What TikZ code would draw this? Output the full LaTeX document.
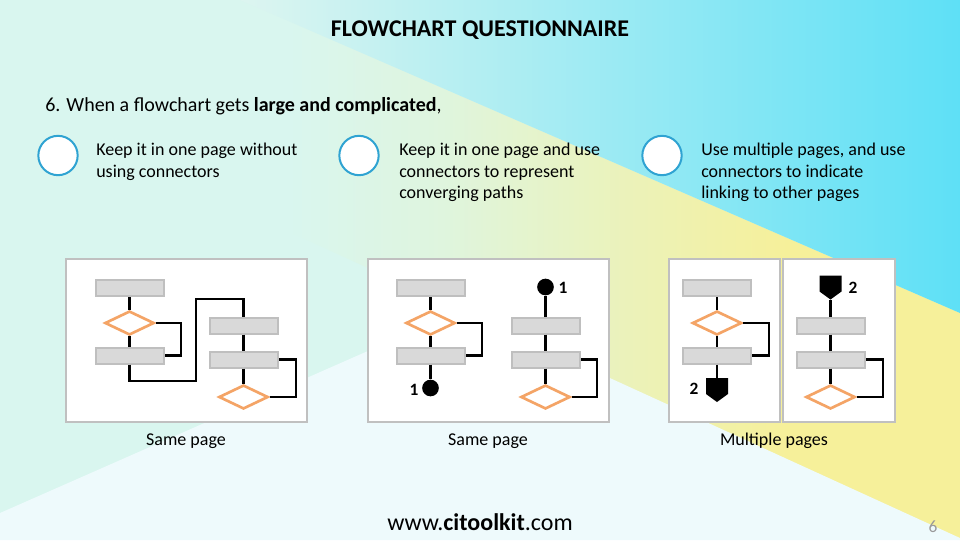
\documentclass[tikz,border=0pt]{standalone}
\usepackage{fontspec}
\setmainfont{Carlito}
\usetikzlibrary{shapes.geometric}
\definecolor{mint}{HTML}{D9F6EF}
\definecolor{paleb}{HTML}{EEFAFC}
\definecolor{yel}{HTML}{F6F09A}
\definecolor{cyanA}{HTML}{DDF5F0}
\definecolor{cyanB}{HTML}{5EE0F6}
\definecolor{ringblue}{HTML}{2FA3D2}
\definecolor{boxfill}{HTML}{D9D9D9}
\definecolor{boxline}{HTML}{BFBFBF}
\definecolor{dia}{HTML}{F4A466}
\definecolor{panelline}{HTML}{C0C0C0}
\pgfdeclarehorizontalshading{ybandshade}{100bp}{color(0bp)=(mint); color(40bp)=(mint); color(48bp)=(mint!80!yel); color(56bp)=(mint!45!yel); color(66bp)=(yel); color(100bp)=(yel)}
\begin{document}
\begin{tikzpicture}[x=0.75pt,y=-0.75pt,
  box/.style={draw=boxline, fill=boxfill, line width=1.5pt, minimum width=51pt, minimum height=12pt, inner sep=0},
  dec/.style={diamond, draw=dia, fill=white, line width=2pt, minimum width=37pt, minimum height=18pt, inner sep=0},
  panel/.style={draw=panelline, fill=white, line width=1.5pt},
  link/.style={line width=2pt, draw=black},
  blackdot/.style={circle, fill=black, minimum size=12.5pt, inner sep=0},
  offpage/.style={minimum width=16.5pt, minimum height=18pt, inner sep=0, outer sep=0,
    path picture={\fill[black] (path picture bounding box.north west) -- (path picture bounding box.north east) -- ([yshift=6pt]path picture bounding box.south east) -- (path picture bounding box.south) -- ([yshift=6pt]path picture bounding box.south west) -- cycle;}},
  ring/.style={circle, draw=ringblue, fill=white, line width=1.5pt, minimum size=29.5pt, inner sep=0},
  opt/.style={anchor=north west, align=left, inner sep=0, font=\fontsize{13.5}{16}\selectfont},
  capt/.style={anchor=base, inner sep=0, font=\fontsize{13.5}{16}\selectfont},
  num/.style={inner sep=0, font=\bfseries\fontsize{13}{15}\selectfont}
]
\useasboundingbox (0,0) rectangle (960,540);
% background
\fill[mint] (0,0) rectangle (960,540);
\shade[shading=ybandshade] (240,0) -- (960,313) -- (960,540) -- (0,99) -- (0,0) -- cycle;
\shade[left color=cyanA, right color=cyanB] (240,0) -- (960,0) -- (960,313) -- cycle;
\fill[paleb] (0,513) -- (461,310) -- (960,538) -- (960,540) -- (0,540) -- cycle;

% title and question
\node[anchor=base, inner sep=0] (title) at (480,36) {\fontsize{18}{21}\selectfont\bfseries FLOWCHART QUESTIONNAIRE};
\node[anchor=base west, inner sep=0] (quest) at (45,111) {\fontsize{15}{18}\selectfont 6. When a flowchart gets \textbf{large and complicated},};

% options
\node[ring] (r1) at (58,155.5) {};
\node[opt] (o1) at (96,143) {Keep it in one page without\\using connectors};
\node[ring] (r2) at (359,155.5) {};
\node[opt] (o2) at (399,143) {Keep it in one page and use\\connectors to represent\\converging paths};
\node[ring] (r3) at (662,155.5) {};
\node[opt] (o3) at (701,143) {Use multiple pages, and use\\connectors to indicate\\linking to other pages};

% panels
\draw[panel] (66,259) rectangle (307,422);
\draw[panel] (368,259) rectangle (609,422);
\draw[panel] (669,259) rectangle (780,422);
\draw[panel] (783,259) rectangle (895,422);

% ---- panel 1
\node[box] (a1) at (129.5,288) {};
\node[dec] (d1) at (129.5,323) {};
\node[box] (b1) at (129.5,355.5) {};
\node[box] (c1) at (243.5,325.5) {};
\node[box] (e1) at (243.5,359.5) {};
\node[dec] (f1) at (243.5,397) {};
\coordinate (k1) at (181,0);
\coordinate (p1) at (196,381);
\coordinate (p2) at (196,299);
\coordinate (k2) at (296,0);
\draw[link] (a1.south) -- (d1.north);
\draw[link] (d1.south) -- (b1.north);
\draw[link] (d1.east) -- (d1.east -| k1) |- (b1.east);
\draw[link] (b1.south) |- (p1) -- (p2) -| (c1.north);
\draw[link] (c1.south) -- (e1.north);
\draw[link] (e1.south) -- (f1.north);
\draw[link] (f1.east) -- (f1.east -| k2) |- (e1.east);

% ---- panel 2
\node[box] (a2) at (430.5,288) {};
\node[dec] (d2) at (430.5,323) {};
\node[box] (b2) at (430.5,355.5) {};
\node[blackdot] (s2) at (430.5,388) {};
\node[num] (n2a) at (414,390) {1};
\node[blackdot] (t2) at (545.5,287) {};
\node[num] (n2b) at (563,288) {1};
\node[box] (c2) at (545.5,325.5) {};
\node[box] (e2) at (545.5,359.5) {};
\node[dec] (f2) at (545.5,397) {};
\coordinate (k3) at (482,0);
\coordinate (k4) at (597,0);
\draw[link] (a2.south) -- (d2.north);
\draw[link] (d2.south) -- (b2.north);
\draw[link] (d2.east) -- (d2.east -| k3) |- (b2.east);
\draw[link] (b2.south) -- (s2);
\draw[link] (t2) -- (c2.north);
\draw[link] (c2.south) -- (e2.north);
\draw[link] (e2.south) -- (f2.north);
\draw[link] (f2.east) -- (f2.east -| k4) |- (e2.east);

% ---- panel 3
\node[box] (a3) at (717,288) {};
\node[dec] (d3) at (717,323) {};
\node[box] (b3) at (717,355.5) {};
\node[offpage] (s3) at (717,390) {};
\node[num] (n3a) at (694,389) {2};
\node[offpage] (t3) at (830.5,287.5) {};
\node[num] (n3b) at (853,288) {2};
\node[box] (c3) at (830.5,325.5) {};
\node[box] (e3) at (830.5,359.5) {};
\node[dec] (f3) at (830.5,397) {};
\coordinate (k5) at (769,0);
\coordinate (k6) at (883,0);
\draw[link] (a3.south) -- (d3.north);
\draw[link] (d3.south) -- (b3.north);
\draw[link] (d3.east) -- (d3.east -| k5) |- (b3.east);
\draw[link] (b3.south) -- (b3.south |- s3.north);
\draw[link] (t3.south -| c3.north) -- (c3.north);
\draw[link] (c3.south) -- (e3.north);
\draw[link] (e3.south) -- (f3.north);
\draw[link] (f3.east) -- (f3.east -| k6) |- (e3.east);

% captions
\node[capt] (cap1) at (186,445) {Same page};
\node[capt] (cap2) at (488,445) {Same page};
\node[capt] (cap3) at (774,445) {Multiple pages};

% footer
\node[anchor=base, inner sep=0] (url) at (480,530) {\fontsize{18}{21}\selectfont www.\textbf{citoolkit}.com};
\node[anchor=base, inner sep=0, text=black!40] (pg) at (933,532) {\fontsize{13}{15}\selectfont 6};
\end{tikzpicture}
\end{document}
